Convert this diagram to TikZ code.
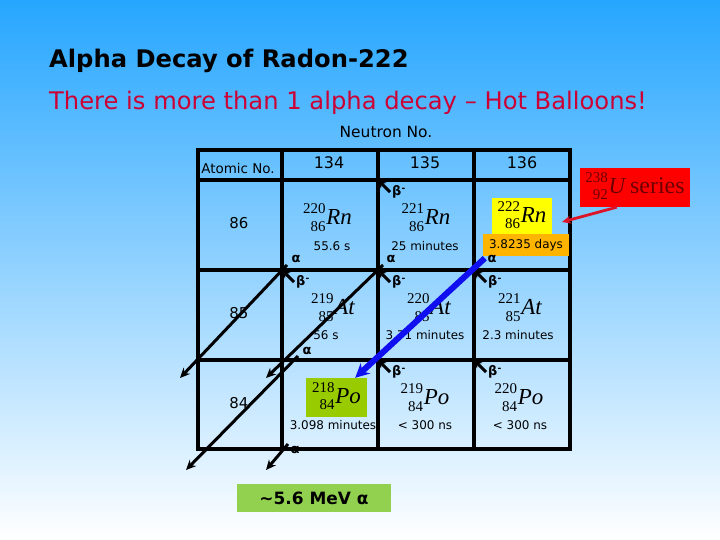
\documentclass[tikz,border=0pt]{standalone}
\usepackage{fontspec}
\setmainfont{DejaVu Sans}
\newfontfamily\tnr{Liberation Serif}
\usetikzlibrary{arrows.meta}
\definecolor{skytop}{RGB}{38,166,255}
\definecolor{titlered}{RGB}{204,0,51}
\definecolor{rnyellow}{RGB}{255,255,0}
\definecolor{daysorange}{RGB}{255,180,0}
\definecolor{pogreen}{RGB}{153,204,0}
\definecolor{boxgreen}{RGB}{146,208,80}
\definecolor{seriesred}{RGB}{255,0,0}
\definecolor{seriestext}{RGB}{110,0,0}
\definecolor{arrowred}{RGB}{220,20,40}
\definecolor{decayblue}{RGB}{15,15,240}
\newcommand{\nuc}[3]{\raisebox{-6.5pt}{\tnr\fontsize{15}{17.5}\selectfont\begin{tabular}[b]{@{}r@{}}#1\\#2\end{tabular}}\hspace{0.8bp}{\tnr\itshape\fontsize{23}{23}\selectfont#3}}

\begin{document}
\begin{tikzpicture}[x=1bp,y=-1bp,
 gridline/.style={line width=3.2bp,line cap=rect},
 alphaar/.style={-{Stealth[length=10bp,width=9bp]},line width=3bp},
 betaar/.style={-{Stealth[length=8bp,width=8bp]},line width=3bp},
 bluear/.style={-{Stealth[length=14bp,width=14bp]},line width=6bp,decayblue},
 redar/.style={-{Stealth[length=9bp,width=8bp]},line width=2.8bp,arrowred},
 tag/.style={font=\bfseries\fontsize{13}{13}\selectfont,inner sep=0pt},
 life/.style={font=\fontsize{12}{12}\selectfont,inner sep=0pt},
 hdr/.style={font=\fontsize{16}{16}\selectfont,inner sep=0pt},
 zrow/.style={font=\fontsize{15}{15}\selectfont,inner sep=0pt},
 iso/.style={inner sep=0pt}]
\shade[top color=skytop,bottom color=white] (0,0) rectangle (720,540);
\useasboundingbox (0,0) rectangle (720,540);
\node[anchor=base west,inner sep=0pt,font=\bfseries\fontsize{24.3}{24}\selectfont] (title) at (49,68) {Alpha Decay of Radon-222};
\node[anchor=base west,inner sep=0pt,text=titlered,font=\fontsize{24.3}{24}\selectfont] (sub) at (49,110) {There is more than 1 alpha decay – Hot Balloons!};
\node[font=\fontsize{15.5}{16}\selectfont,inner sep=0pt] (neutron) at (386,132) {Neutron No.};
\foreach \x in {198,282,378,474,570} \draw[gridline] (\x,150) -- (\x,449);
\foreach \y in {150,180,270,360,449} \draw[gridline] (198,\y) -- (570,\y);
\node[font=\fontsize{13.5}{14}\selectfont,inner sep=0pt] (atomic) at (238,168) {Atomic No.};
\foreach \n/\x in {134/329,135/425,136/522} \node[hdr] (n\n) at (\x,162.5) {\n};
\foreach \z/\y in {86/223,85/313,84/403} \node[zrow] (z\z) at (239,\y) {\z};
\node[iso] (rn220) at (327.5,219) {\nuc{220}{86}{Rn}};
\node[iso] (rn221) at (426,219) {\nuc{221}{86}{Rn}};
\node[iso,fill=rnyellow,minimum width=60bp,minimum height=37bp] (rn222) at (522,216.5) {\nuc{222}{86}{Rn}};
\node[iso] (at219) at (333,309) {\nuc{219}{85}{At}};
\node[iso] (at220) at (429,309) {\nuc{220}{85}{At}};
\node[iso] (at221) at (520,309) {\nuc{221}{85}{At}};
\node[iso,fill=pogreen,minimum width=61bp,minimum height=39bp] (po218) at (336.5,397.5) {\nuc{218}{84}{Po}};
\node[iso] (po219) at (425,399) {\nuc{219}{84}{Po}};
\node[iso] (po220) at (519,399) {\nuc{220}{84}{Po}};
\node[life] (t220) at (332,246) {55.6 s};
\node[life] (t221) at (425,246) {25 minutes};
\node[life,fill=daysorange,minimum width=86bp,minimum height=22bp] (t222) at (526,245) {3.8235 days};
\node[life] (t219a) at (326,335) {56 s};
\node[life] (t220a) at (425,335) {3.71 minutes};
\node[life] (t221a) at (518,335) {2.3 minutes};
\node[life] (t218p) at (333,425) {3.098 minutes};
\node[life] (t219p) at (425,425) {< 300 ns};
\node[life] (t220p) at (520,425) {< 300 ns};
\coordinate (c31) at (378,180);
\coordinate (c22) at (282,270); \coordinate (c32) at (378,270); \coordinate (c42) at (474,270);
\coordinate (c33) at (378,360); \coordinate (c43) at (474,360);
\coordinate (a1s) at (287,265); \coordinate (a1e) at (180,378);
\coordinate (a2s) at (383,265); \coordinate (a2e) at (266,378);
\coordinate (a3s) at (298,356); \coordinate (a3e) at (186,470);
\coordinate (a4s) at (288,444); \coordinate (a4e) at (266,470);
\draw[alphaar] (a1s) -- (a1e); \draw[alphaar] (a2s) -- (a2e);
\draw[alphaar] (a3s) -- (a3e); \draw[alphaar] (a4s) -- (a4e);
\foreach \c in {c31,c22,c32,c42,c33,c43} {
 \draw[betaar] ([shift={(12,12)}]\c) -- (\c);
 \node[tag] (b\c) at ([shift={(21,12)}]\c) {β\textsuperscript{-}};
}
\draw[bluear] ([shift={(2,2)}]t222.south west) -- ([xshift=-12bp]po218.north east);
\node[tag] (al1) at (296,259) {α}; \node[tag] (al2) at (391,259) {α};
\node[tag] (al3) at (492,259) {α}; \node[tag] (al4) at (307,351) {α};
\node[tag] (al5) at (295,450) {α};
\node[fill=seriesred,text=seriestext,minimum width=110bp,minimum height=39bp,inner sep=0pt] (useries) at (635,187.5) {\nuc{238}{92}{U}\hspace{5bp}{\tnr\fontsize{24}{24}\selectfont series}};
\coordinate (useriestip) at (562,222);
\draw[redar] ([xshift=37bp]useries.south west) -- (useriestip);
\node[fill=boxgreen,minimum width=154bp,minimum height=28bp,font=\bfseries\fontsize{17}{17}\selectfont,inner sep=0pt] (energy) at (314,498) {\textasciitilde5.6 MeV α};
\end{tikzpicture}
\end{document}
